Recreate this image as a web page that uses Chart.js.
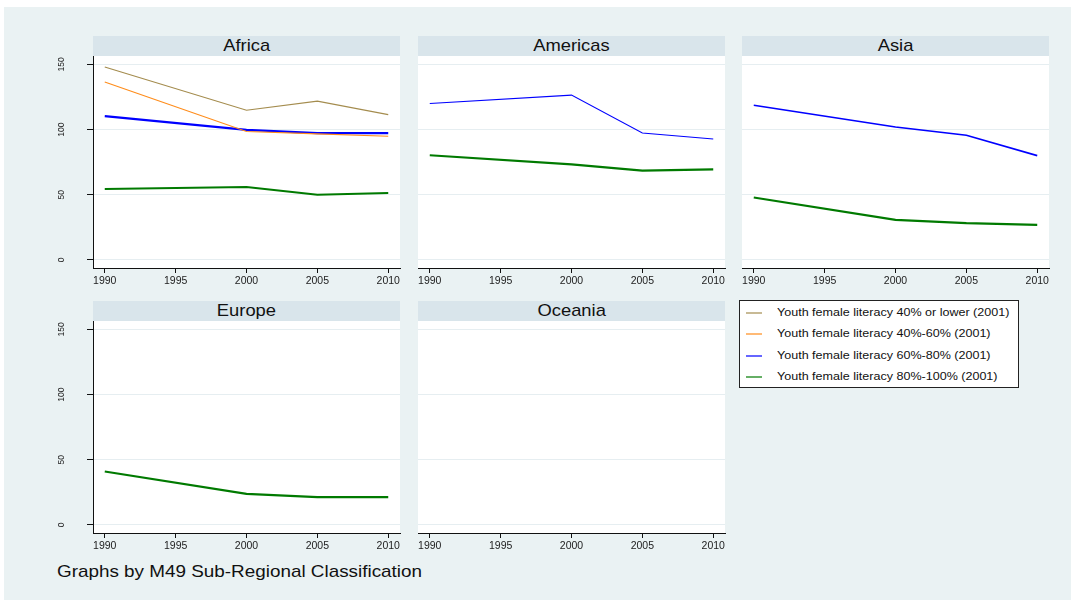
<!DOCTYPE html>
<html><head><meta charset="utf-8">
<script src="https://cdn.jsdelivr.net/npm/chart.js@4.4.1/dist/chart.umd.min.js"></script>
<style>
body{margin:0;background:#fff;width:1071px;height:600px;overflow:hidden;position:relative;font-family:"Liberation Sans",Arial,sans-serif;}
#bg{position:absolute;left:4px;top:7px;width:1067px;height:593px;background:#eaf2f3;}
.strip{position:absolute;background:#d9e5eb;color:#111;text-align:center;font-size:17px;line-height:20px;height:20px;}
.strip span{display:inline-block;transform:scaleX(1.08);}
canvas{position:absolute;}
#legend{position:absolute;left:739px;top:300px;width:278px;height:86px;background:#fff;border:1px solid #222;}
.li{position:absolute;left:0;height:20px;width:278px;font-size:11px;line-height:20px;color:#111;}
.li span.sw{position:absolute;left:6px;top:10px;width:16px;height:2px;opacity:0.6;}
.li span.tx{position:absolute;left:37px;top:0;white-space:nowrap;transform:scaleX(1.14);transform-origin:0 50%;}
#note{position:absolute;left:57px;top:562px;font-size:17px;line-height:20px;color:#111;white-space:nowrap;transform:scaleX(1.11);transform-origin:0 50%;}
</style></head>
<body>
<div id="bg"></div>
<div id="panels"></div>
<div id="legend"></div>
<div id="note">Graphs by M49 Sub-Regional Classification</div>
<script>
// ---- data ----
const years = [1990, 2000, 2005, 2010];
const xTicks = [1990, 1995, 2000, 2005, 2010];
const yTicks = [0, 50, 100, 150];
const regions = ["Africa", "Americas", "Asia", "Europe", "Oceania"];
const groups = [
  "Youth female literacy 40% or lower (2001)",
  "Youth female literacy 40%-60% (2001)",
  "Youth female literacy 60%-80% (2001)",
  "Youth female literacy 80%-100% (2001)"
];
const groupColors = ["#a48c4e", "#ff8c1a", "#0000ff", "#007a00"];

const africaLow    = [148, 114.8, 121.8, 111.5];
const africa40_60  = [136.4, 98.5, 96.7, 94.9];
const africa60_80  = [110.3, 99.7, 97.2, 97.2];
const africa80_100 = [54.4, 55.9, 50.0, 51.3];
const americas60_80  = [120.0, 126.4, 97.4, 92.8];
const americas80_100 = [80.3, 73.3, 68.5, 69.5];
const asia60_80  = [118.7, 102.0, 95.6, 80.0];
const asia80_100 = [47.9, 30.8, 28.2, 26.9];
const europe80_100 = [41.0, 23.8, 21.3, 21.3];

const regionSeries = {
  Africa:   [africaLow, africa40_60, africa60_80, africa80_100],
  Americas: [null, null, americas60_80, americas80_100],
  Asia:     [null, null, asia60_80, asia80_100],
  Europe:   [null, null, null, europe80_100],
  Oceania:  [null, null, null, null]
};
const lineWidths = {
  Africa: [1.2, 1.1, 2.2, 2],
  Americas: [1, 1, 1.1, 2.2],
  Asia: [1, 1, 1.6, 2.2],
  Europe: [1, 1, 1, 2.2],
  Oceania: [1, 1, 1, 2]
};

// ---- layout ----
const colLeft = [93, 418, 742];
const rowTop = [56, 321];
const plotW = 307, plotH = 212;
const yAxisW = 53, xAxisH = 28, rightPad = 10;

const whiteArea = {
  id: 'whiteArea',
  beforeDraw(chart) {
    const {ctx, chartArea: a} = chart;
    ctx.save(); ctx.fillStyle = '#ffffff';
    ctx.fillRect(a.left, a.top, a.right - a.left, a.bottom - a.top);
    ctx.restore();
  }
};

const panelsDiv = document.getElementById('panels');
regions.forEach((name, i) => {
  const col = i % 3, row = Math.floor(i / 3);
  const pl = colLeft[col], pt = rowTop[row];
  const showY = col === 0;
  const yw = showY ? yAxisW : 0;

  const strip = document.createElement('div');
  strip.className = 'strip';
  strip.style.left = pl + 'px';
  strip.style.top = (pt - 20) + 'px';
  strip.style.width = plotW + 'px';
  const st = document.createElement('span');
  st.textContent = name;
  strip.appendChild(st);
  panelsDiv.appendChild(strip);

  const cv = document.createElement('canvas');
  const W = yw + plotW + rightPad, H = plotH + xAxisH;
  cv.width = W; cv.height = H;
  cv.style.left = (pl - yw) + 'px';
  cv.style.top = pt + 'px';
  cv.style.width = W + 'px'; cv.style.height = H + 'px';
  panelsDiv.appendChild(cv);

  const datasets = [];
  regionSeries[name].forEach((vals, g) => {
    if (!vals) return;
    datasets.push({
      label: groups[g],
      data: years.map((y, k) => ({x: y, y: vals[k]})),
      borderColor: groupColors[g],
      backgroundColor: groupColors[g],
      borderWidth: lineWidths[name][g],
      pointRadius: 0,
      tension: 0,
      fill: false
    });
  });

  new Chart(cv, {
    type: 'line',
    data: {datasets},
    plugins: [whiteArea],
    options: {
      responsive: false,
      animation: false,
      events: [],
      layout: {padding: {left: 0, right: rightPad, top: 0, bottom: 0}},
      plugins: {legend: {display: false}, tooltip: {enabled: false}, title: {display: false}},
      scales: {
        x: {
          type: 'linear', min: 1989.17, max: 2010.83,
          afterBuildTicks: s => { s.ticks = xTicks.map(v => ({value: v})); },
          afterFit: s => { s.height = xAxisH; s.paddingLeft = 0; s.paddingRight = 0; s.paddingTop = 0; s.paddingBottom = 0; },
          grid: {drawOnChartArea: false, drawTicks: true, tickLength: 5, tickColor: '#111', tickWidth: 1},
          border: {display: true, color: '#111', width: 1},
          ticks: {
            autoSkip: false, maxRotation: 0, minRotation: 0, padding: 2,
            color: '#222', font: {family: 'Liberation Sans, Arial', size: 10.5},
            callback: v => String(v)
          }
        },
        y: {
          type: 'linear', min: -6.15, max: 156.4,
          afterBuildTicks: s => { s.ticks = yTicks.map(v => ({value: v})); },
          afterFit: s => { s.width = yw; s.paddingLeft = 0; s.paddingRight = 0; s.paddingTop = 0; s.paddingBottom = 0; },
          grid: {drawOnChartArea: true, color: '#e6eef1', lineWidth: 1, drawTicks: showY, tickLength: 6, tickColor: '#111'},
          border: {display: showY, color: '#111', width: 1},
          ticks: {
            display: showY, minRotation: 90, maxRotation: 90, crossAlign: 'center', padding: 18,
            color: '#222', font: {family: 'Liberation Sans, Arial', size: 8.5},
            callback: v => String(v)
          }
        }
      }
    }
  });
});

// ---- legend ----
const leg = document.getElementById('legend');
const legTops = [1, 22, 44, 65];
groups.forEach((g, k) => {
  const d = document.createElement('div');
  d.className = 'li';
  d.style.top = legTops[k] + 'px';
  const sw = document.createElement('span');
  sw.className = 'sw'; sw.style.background = groupColors[k];
  const tx = document.createElement('span');
  tx.className = 'tx'; tx.textContent = g;
  d.appendChild(sw); d.appendChild(tx);
  leg.appendChild(d);
});
</script>
</body></html>
